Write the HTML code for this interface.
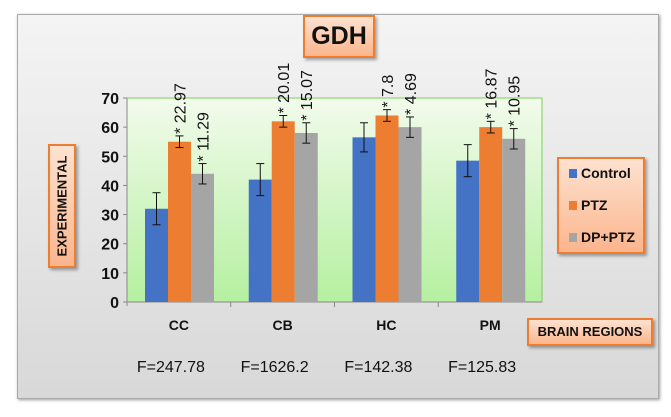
<!DOCTYPE html>
<html><head><meta charset="utf-8"><style>
body{margin:0;width:671px;height:417px;background:#fff;overflow:hidden;font-family:"Liberation Sans",sans-serif}
.box{position:absolute;background:linear-gradient(#fde2d0,#fbb58d);border:2px solid #ed7d31;box-shadow:2px 2px 3px rgba(0,0,0,.35);box-sizing:border-box;font-weight:bold;color:#111}
</style></head><body>
<div style="position:absolute;left:17px;top:14px;width:640px;height:383px;border:1px solid #aaa;background:linear-gradient(#f4f4f4,#d8d8d8);box-shadow:1px 1px 3px rgba(0,0,0,.4)"></div>
<svg width="671" height="417" style="position:absolute;left:0;top:0">
<defs><linearGradient id="pg" x1="0" y1="0" x2="0" y2="1"><stop offset="0" stop-color="#f2fbec"/><stop offset="1" stop-color="#b5f0a0"/></linearGradient></defs>
<g id="g"></g></svg>
<div class="box" style="left:303px;top:15px;width:72px;height:43px;font-size:25px;line-height:39px;text-align:center">GDH</div>
<div class="box" style="left:48px;top:144px;width:28px;height:124px"><div style="position:absolute;left:50%;top:50%;transform:translate(-50%,-50%) rotate(-90deg);font-size:13px;white-space:nowrap">EXPERIMENTAL</div></div>
<div class="box" style="left:527px;top:318px;width:126px;height:28px;font-size:13px;line-height:24px;text-align:center">BRAIN REGIONS</div>
<div class="box" style="left:557px;top:157px;width:88px;height:97px;font-size:14px">
<div style="position:absolute;left:10px;top:6px"><span style="display:inline-block;width:8px;height:9px;background:#4472c4;margin-right:4px"></span>Control</div>
<div style="position:absolute;left:10px;top:38px"><span style="display:inline-block;width:8px;height:9px;background:#ed7d31;margin-right:4px"></span>PTZ</div>
<div style="position:absolute;left:10px;top:70px"><span style="display:inline-block;width:8px;height:9px;background:#a5a5a5;margin-right:4px"></span>DP+PTZ</div>
</div>
<script>
const categories=["CC","CB","HC","PM"];
const fStats=["F=247.78","F=1626.2","F=142.38","F=125.83"];
const control=[32,42,56.5,48.5];
const controlErr=[5.5,5.5,5,5.5];
const ptz=[55,62,64,60];
const ptzErr=[2,2,2,2];
const dpptz=[44,58,60,56];
const dpptzErr=[3.5,3.5,3.5,3.5];
const ptzLabels=["22.97","20.01","7.8","16.87"];
const dpLabels=["11.29","15.07","4.69","10.95"];
const yTicks=[0,10,20,30,40,50,60,70];
const X0=127,X1=542,Y0=302,Y1=98;
const y=v=>Y0-(v/70)*(Y0-Y1);
const gw=(X1-X0)/categories.length;
const g=document.getElementById('g');
const NS='http://www.w3.org/2000/svg';
function mk(t,a,txt){const e=document.createElementNS(NS,t);for(const k in a)e.setAttribute(k,a[k]);if(txt!=null)e.textContent=txt;g.appendChild(e);return e;}
let e=mk('rect',{x:X0,y:Y1,width:X1-X0,height:Y0-Y1,fill:'url(#pg)',stroke:'#7ccf5c'});

mk('line',{x1:X0,y1:Y1,x2:X0,y2:Y0+4,stroke:'#888'});
mk('line',{x1:X0,y1:Y0,x2:X1,y2:Y0,stroke:'#888'});
yTicks.forEach(t=>{mk('line',{x1:X0-4,x2:X0,y1:y(t),y2:y(t),stroke:'#888'});
e=mk('text',{x:X0-8,y:y(t)+6,'text-anchor':'end','font-size':16,'font-weight':'bold',fill:'#111'},t);
});
const series=[[control,controlErr,'#4472c4',null],[ptz,ptzErr,'#ed7d31',ptzLabels],[dpptz,dpptzErr,'#a5a5a5',dpLabels]];
const bw=23;
categories.forEach((c,i)=>{
const gx=X0+i*gw;
if(i>0)mk('line',{x1:gx,x2:gx,y1:Y0,y2:Y0+5,stroke:'#888'});
e=mk('text',{x:gx+gw/2,y:330,'text-anchor':'middle','font-size':14,'font-weight':'bold',fill:'#111'},c);

e=mk('text',{x:gx+gw/2-8,y:372,'text-anchor':'middle','font-size':16,fill:'#111'},fStats[i]);

series.forEach((s,j)=>{
const bx=gx+18+j*bw,v=s[0][i],er=s[1][i];
e=mk('rect',{x:bx,y:y(v),width:bw,height:Y0-y(v),fill:s[2]});

const cx=bx+bw/2;
mk('line',{x1:cx,x2:cx,y1:y(v+er),y2:y(v-er),stroke:'#111'});
mk('line',{x1:cx-4,x2:cx+4,y1:y(v+er),y2:y(v+er),stroke:'#111'});
mk('line',{x1:cx-4,x2:cx+4,y1:y(v-er),y2:y(v-er),stroke:'#111'});
if(s[3]){const ty=y(v+er)-2;
e=mk('text',{x:cx+6,y:ty,transform:`rotate(-90 ${cx+6} ${ty})`,'font-size':16,fill:'#111'},'* '+s[3][i]);
}
});});
</script>
</body></html>
